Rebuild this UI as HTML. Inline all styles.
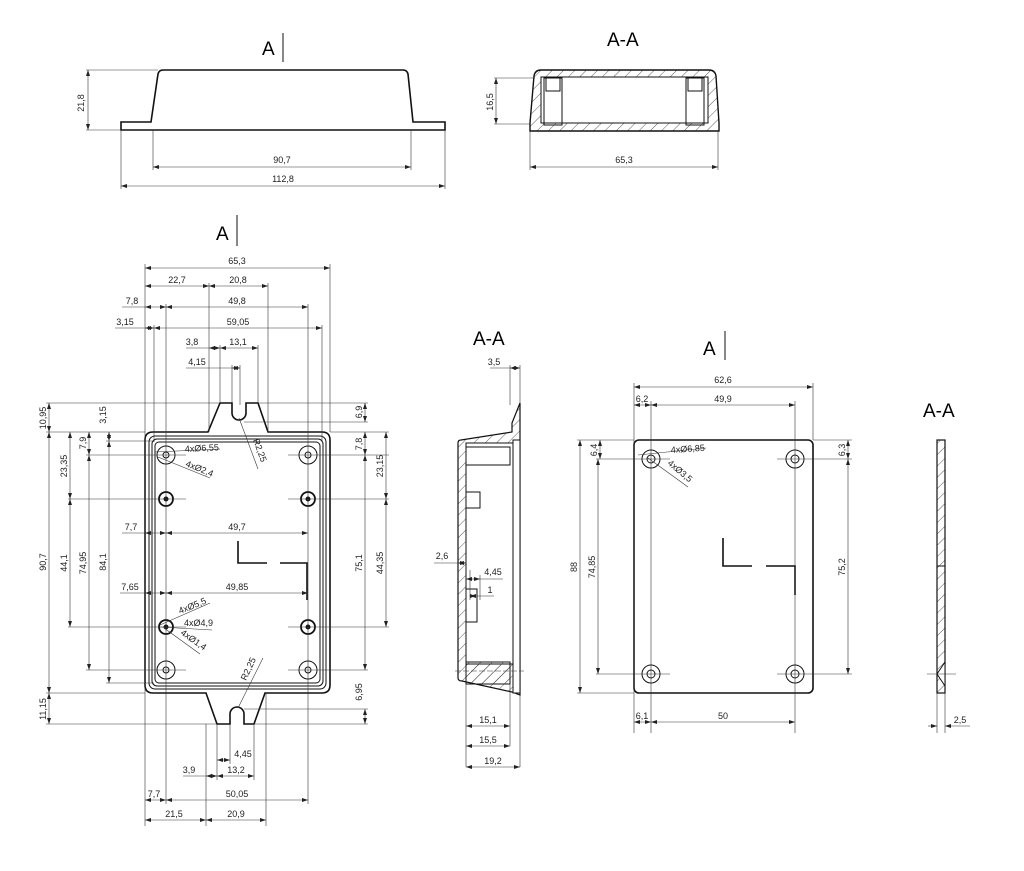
<!DOCTYPE html>
<html><head><meta charset="utf-8"><style>
html,body{margin:0;padding:0;background:#fff;}
svg{display:block;font-family:"Liberation Sans",sans-serif;}
.t{font-size:9px;fill:#222;}
.T{font-size:19px;fill:#000;}
.o{stroke:#111;stroke-width:1.6;fill:none;}
.m{stroke:#111;stroke-width:1;fill:none;}
.d{stroke:#333;stroke-width:0.6;fill:none;}
</style></head><body>
<svg width="1024" height="871" viewBox="0 0 1024 871" xmlns="http://www.w3.org/2000/svg">
<defs>
<marker id="a" viewBox="0 0 6 4" refX="6" refY="2" markerWidth="6" markerHeight="4" orient="auto-start-reverse" markerUnits="userSpaceOnUse"><path d="M0,0L6,2L0,4z" fill="#222"/></marker>
<pattern id="hat" width="8" height="8" patternUnits="userSpaceOnUse" patternTransform="rotate(45)"><line x1="0" y1="0" x2="0" y2="8" stroke="#333" stroke-width="0.8"/></pattern>
</defs>
<rect width="1024" height="871" fill="#fff"/>

<!-- TOP SIDE VIEW -->
<text class="T" x="262" y="55">A</text><line class="m" x1="283" y1="33" x2="283" y2="62" stroke-width="1.5"/>
<path class="o" d="M121,130 L121,122 L151,122 L158,74 Q159,70 163,70 L403,70 Q407,70 408,74 L413,122 L445,122 L445,130 Z"/>
<line class="d" x1="86" y1="70" x2="158" y2="70"/><line class="d" x1="86" y1="130" x2="121" y2="130"/>
<line class="d" x1="88" y1="70" x2="88" y2="130" marker-start="url(#a)" marker-end="url(#a)"/>
<text class="t" transform="translate(84,103) rotate(-90)" text-anchor="middle">21,8</text>
<line class="d" x1="153" y1="130" x2="153" y2="170"/><line class="d" x1="411" y1="130" x2="411" y2="170"/>
<line class="d" x1="153" y1="167" x2="411" y2="167" marker-start="url(#a)" marker-end="url(#a)"/>
<text class="t" x="282" y="163" text-anchor="middle">90,7</text>
<line class="d" x1="121" y1="130" x2="121" y2="189"/><line class="d" x1="445" y1="130" x2="445" y2="189"/>
<line class="d" x1="121" y1="186" x2="445" y2="186" marker-start="url(#a)" marker-end="url(#a)"/>
<text class="t" x="283" y="182" text-anchor="middle">112,8</text>

<!-- TOP A-A -->
<text class="T" x="607" y="46">A-A</text>
<path d="M530,131 L530,123 L534,76 Q535,70 541,70 L709,70 Q715,70 716,76 L719,123 L719,131 Z" fill="url(#hat)" stroke="#111" stroke-width="1.4"/>
<rect x="541" y="77" width="167" height="46" fill="#fff" stroke="#111" stroke-width="1"/>
<rect x="544" y="78" width="18" height="47" fill="#fff" class="m"/><rect x="546" y="78" width="14" height="13" fill="none" class="m"/>
<rect x="686" y="78" width="18" height="47" fill="#fff" class="m"/><rect x="688" y="78" width="14" height="13" fill="none" class="m"/>
<line class="d" x1="494" y1="78" x2="535" y2="78"/><line class="d" x1="494" y1="124" x2="530" y2="124"/>
<line class="d" x1="496" y1="78" x2="496" y2="124" marker-start="url(#a)" marker-end="url(#a)"/>
<text class="t" transform="translate(493,102) rotate(-90)" text-anchor="middle">16,5</text>
<line class="d" x1="530" y1="131" x2="530" y2="170"/><line class="d" x1="718" y1="131" x2="718" y2="170"/>
<line class="d" x1="530" y1="167" x2="718" y2="167" marker-start="url(#a)" marker-end="url(#a)"/>
<text class="t" x="624" y="163" text-anchor="middle">65,3</text>

<!-- MAIN VIEW -->
<text class="T" x="216" y="240">A</text><line class="m" x1="237" y1="215" x2="237" y2="246" stroke-width="1.5"/>
<path class="o" d="M153,432 L208,432 L220,403 L232,403 L232,413 A7,7 0 0 0 246,413 L246,403 L258,403 L268,432 L322,432 Q330,432 330,440 L330,685 Q330,693 322,693 L265,693 L254,724 L244,724 L244,714 A7,7 0 0 0 230,714 L230,724 L217,724 L206,693 L153,693 Q145,693 145,685 L145,440 Q145,432 153,432 Z"/>
<rect x="149" y="436" width="177" height="253" rx="6" class="m"/>
<rect x="152" y="439" width="171" height="247" rx="5" class="m"/>
<rect x="155" y="442" width="165" height="241" rx="4" class="m"/>
<g class="m">
<circle cx="166" cy="455" r="9"/><circle cx="166" cy="455" r="3"/>
<circle cx="308" cy="455" r="9"/><circle cx="308" cy="455" r="3"/>
<circle cx="166" cy="499" r="7" stroke-width="1.8"/><circle cx="166" cy="499" r="2" fill="#111"/>
<circle cx="308" cy="499" r="7" stroke-width="1.8"/><circle cx="308" cy="499" r="2" fill="#111"/>
<circle cx="166" cy="627" r="7" stroke-width="1.8"/><circle cx="166" cy="627" r="2" fill="#111"/>
<circle cx="308" cy="627" r="7" stroke-width="1.8"/><circle cx="308" cy="627" r="2" fill="#111"/>
<circle cx="166" cy="670" r="9"/><circle cx="166" cy="670" r="3"/>
<circle cx="308" cy="670" r="9"/><circle cx="308" cy="670" r="3"/>
</g>
<path d="M238,541 L238,563 L267,563 M280,563 L307,563 L307,600" stroke="#111" stroke-width="1.6" fill="none"/>
<g class="d">
<line x1="145" y1="264" x2="145" y2="826"/><line x1="330" y1="264" x2="330" y2="432"/>
<line x1="209" y1="283" x2="209" y2="432"/><line x1="268" y1="283" x2="268" y2="432"/>
<line x1="166" y1="304" x2="166" y2="804"/><line x1="308" y1="304" x2="308" y2="804"/>
<line x1="154" y1="325" x2="154" y2="442"/><line x1="322" y1="325" x2="322" y2="442"/>
<line x1="220" y1="345" x2="220" y2="403"/><line x1="258" y1="345" x2="258" y2="403"/>
<line x1="232" y1="365" x2="232" y2="403"/><line x1="240" y1="365" x2="240" y2="405"/>
<line x1="206" y1="724" x2="206" y2="826"/><line x1="266" y1="693" x2="266" y2="826"/>
<line x1="217" y1="724" x2="217" y2="780"/><line x1="254" y1="724" x2="254" y2="780"/><line x1="230" y1="724" x2="230" y2="764"/>
<line x1="46" y1="403" x2="220" y2="403"/><line x1="46" y1="432" x2="145" y2="432"/><line x1="46" y1="693" x2="145" y2="693"/><line x1="46" y1="724" x2="217" y2="724"/>
<line x1="68" y1="499" x2="186" y2="499"/><line x1="68" y1="627" x2="186" y2="627"/>
<line x1="86" y1="455" x2="186" y2="455"/><line x1="86" y1="670" x2="186" y2="670"/>
<line x1="106" y1="441" x2="154" y2="441"/><line x1="106" y1="683" x2="154" y2="683"/>
<line x1="288" y1="455" x2="389" y2="455"/><line x1="288" y1="670" x2="368" y2="670"/>
<line x1="288" y1="499" x2="389" y2="499"/><line x1="288" y1="627" x2="389" y2="627"/>
<line x1="330" y1="432" x2="389" y2="432"/><line x1="244" y1="422" x2="368" y2="422"/><line x1="258" y1="403" x2="368" y2="403"/>
<line x1="244" y1="709" x2="368" y2="709"/><line x1="254" y1="724" x2="368" y2="724"/>
</g>
<g class="d" marker-start="url(#a)" marker-end="url(#a)">
<line x1="145" y1="268" x2="330" y2="268"/>
<line x1="145" y1="286" x2="209" y2="286"/><line x1="209" y1="286" x2="268" y2="286"/>
<line x1="145" y1="307" x2="166" y2="307"/><line x1="166" y1="307" x2="308" y2="307"/>
<line x1="145" y1="328" x2="154" y2="328"/><line x1="154" y1="328" x2="322" y2="328"/>
<line x1="209" y1="348" x2="220" y2="348"/><line x1="220" y1="348" x2="258" y2="348"/>
<line x1="232" y1="368" x2="240" y2="368"/>
<line x1="145" y1="533" x2="166" y2="533"/><line x1="166" y1="533" x2="308" y2="533"/>
<line x1="145" y1="593" x2="166" y2="593"/><line x1="166" y1="593" x2="308" y2="593"/>
<line x1="217" y1="760" x2="230" y2="760"/>
<line x1="206" y1="776" x2="217" y2="776"/><line x1="217" y1="776" x2="254" y2="776"/>
<line x1="145" y1="800" x2="166" y2="800"/><line x1="166" y1="800" x2="308" y2="800"/>
<line x1="145" y1="820" x2="206" y2="820"/><line x1="206" y1="820" x2="266" y2="820"/>
<line x1="49" y1="403" x2="49" y2="432"/><line x1="49" y1="432" x2="49" y2="693"/><line x1="49" y1="693" x2="49" y2="724"/>
<line x1="70" y1="432" x2="70" y2="499"/><line x1="70" y1="499" x2="70" y2="627"/>
<line x1="89" y1="432" x2="89" y2="455"/><line x1="89" y1="455" x2="89" y2="670"/>
<line x1="109" y1="432" x2="109" y2="441"/><line x1="109" y1="441" x2="109" y2="683"/>
<line x1="365" y1="403" x2="365" y2="422"/><line x1="365" y1="432" x2="365" y2="455"/><line x1="365" y1="455" x2="365" y2="670"/><line x1="365" y1="709" x2="365" y2="724"/>
<line x1="386" y1="432" x2="386" y2="499"/><line x1="386" y1="499" x2="386" y2="627"/>
</g>
<g class="d"><line x1="115" y1="328" x2="145" y2="328"/><line x1="186" y1="348" x2="209" y2="348"/><line x1="186" y1="368" x2="232" y2="368"/><line x1="122" y1="307" x2="145" y2="307"/><line x1="122" y1="533" x2="145" y2="533"/><line x1="120" y1="593" x2="145" y2="593"/><line x1="183" y1="776" x2="206" y2="776"/></g>
<g class="t" text-anchor="middle">
<text x="237" y="264">65,3</text><text x="177" y="283">22,7</text><text x="238" y="283">20,8</text>
<text x="132" y="304">7,8</text><text x="237" y="304">49,8</text>
<text x="125" y="325">3,15</text><text x="238" y="325">59,05</text>
<text x="192" y="345">3,8</text><text x="238" y="345">13,1</text><text x="197" y="365">4,15</text>
<text x="131" y="530">7,7</text><text x="237" y="530">49,7</text>
<text x="130" y="590">7,65</text><text x="237" y="590">49,85</text>
<text x="243" y="757">4,45</text><text x="189" y="773">3,9</text><text x="236" y="773">13,2</text>
<text x="154" y="797">7,7</text><text x="237" y="797">50,05</text>
<text x="174" y="817">21,5</text><text x="236" y="817">20,9</text>
<text transform="translate(46,418) rotate(-90)">10,95</text><text transform="translate(46,562) rotate(-90)">90,7</text><text transform="translate(46,709) rotate(-90)">11,15</text>
<text transform="translate(67,466) rotate(-90)">23,35</text><text transform="translate(67,563) rotate(-90)">44,1</text>
<text transform="translate(86,443) rotate(-90)">7,9</text><text transform="translate(86,563) rotate(-90)">74,95</text>
<text transform="translate(106,415) rotate(-90)">3,15</text><text transform="translate(106,562) rotate(-90)">84,1</text>
<text transform="translate(362,412) rotate(-90)">6,9</text><text transform="translate(362,444) rotate(-90)">7,8</text><text transform="translate(362,563) rotate(-90)">75,1</text><text transform="translate(362,692) rotate(-90)">6,95</text>
<text transform="translate(383,466) rotate(-90)">23,15</text><text transform="translate(383,563) rotate(-90)">44,35</text>
</g>
<g class="d">
<line x1="155" y1="452" x2="220" y2="449"/><line x1="158" y1="457" x2="210" y2="478"/>
<line x1="239" y1="418" x2="258" y2="469"/>
<line x1="160" y1="625" x2="210" y2="603"/><line x1="160" y1="627" x2="212" y2="630"/><line x1="164" y1="628" x2="200" y2="654"/>
<line x1="238" y1="708" x2="263" y2="658"/>
</g>
<g class="t">
<text x="185" y="452" transform="rotate(-3,185,452)">4xØ6,55</text>
<text x="185" y="466" transform="rotate(22,185,466)">4xØ2,4</text>
<text x="253" y="440" transform="rotate(70,253,440)">R2,25</text>
<text x="180" y="614" transform="rotate(-22,180,614)">4xØ5,5</text>
<text x="184" y="626">4xØ4,9</text>
<text x="180" y="634" transform="rotate(35,180,634)">4xØ1,4</text>
<text x="246" y="681" transform="rotate(-65,246,681)">R2,25</text>
</g>

<!-- SIDE SECTION A-A -->
<text class="T" x="473" y="345">A-A</text>
<path d="M458,443 Q458,440 461,440 L512,432 L512,423 L520,403 L520,695 L512,692 L462,681 Q458,681 458,678 Z" fill="url(#hat)" stroke="#111" stroke-width="1.2"/>
<rect x="466" y="443" width="48" height="221" fill="#fff" stroke="#111" stroke-width="1"/>
<rect x="513" y="440" width="7" height="253" fill="#fff" stroke="#111" stroke-width="1"/>
<rect x="466" y="447" width="44" height="18" fill="#fff" class="m"/>
<rect x="466" y="492" width="14" height="16" fill="#fff" class="m"/>
<rect x="466" y="662" width="44" height="22" fill="url(#hat)" stroke="#111" stroke-width="1"/>
<line class="d" x1="455" y1="671" x2="524" y2="671" stroke-dasharray="6,2"/>
<rect x="466" y="589" width="11" height="33" fill="none" class="m"/>
<g class="d">
<line x1="510" y1="365" x2="510" y2="405"/><line x1="520" y1="365" x2="520" y2="403"/>
<line x1="466" y1="684" x2="466" y2="767"/><line x1="510" y1="684" x2="510" y2="746"/><line x1="520" y1="695" x2="520" y2="767"/>
<line x1="470" y1="570" x2="470" y2="600"/><line x1="480" y1="575" x2="480" y2="600"/>
</g>
<g class="d" marker-start="url(#a)" marker-end="url(#a)">
<line x1="510" y1="368" x2="520" y2="368"/>
<line x1="458" y1="563" x2="466" y2="563"/>
<line x1="466" y1="579" x2="480" y2="579"/>
<line x1="470" y1="596" x2="476" y2="596"/>
<line x1="466" y1="726" x2="510" y2="726"/><line x1="466" y1="746" x2="510" y2="746"/><line x1="466" y1="767" x2="520" y2="767"/>
</g>
<g class="d"><line x1="490" y1="368" x2="510" y2="368"/><line x1="434" y1="563" x2="458" y2="563"/><line x1="480" y1="579" x2="503" y2="579"/><line x1="476" y1="596" x2="494" y2="596"/></g>
<g class="t" text-anchor="middle">
<text x="494" y="365">3,5</text><text x="442" y="559">2,6</text><text x="493" y="575">4,45</text><text x="490" y="593">1</text>
<text x="488" y="723">15,1</text><text x="488" y="743">15,5</text><text x="493" y="764">19,2</text>
</g>

<!-- RIGHT LID VIEW -->
<text class="T" x="703" y="355">A</text><line class="m" x1="725" y1="331" x2="725" y2="360" stroke-width="1.5"/>
<rect x="634" y="440" width="179" height="253" rx="5" class="o"/>
<g class="m">
<circle cx="651" cy="459" r="9"/><circle cx="651" cy="459" r="4"/>
<circle cx="795" cy="459" r="9"/><circle cx="795" cy="459" r="4"/>
<circle cx="651" cy="674" r="9"/><circle cx="651" cy="674" r="4"/>
<circle cx="795" cy="674" r="9"/><circle cx="795" cy="674" r="4"/>
</g>
<path d="M723,538 L723,566 L752,566 M766,566 L795,566 L795,595" stroke="#111" stroke-width="1.6" fill="none"/>
<g class="d">
<line x1="634" y1="383" x2="634" y2="733"/><line x1="813" y1="383" x2="813" y2="440"/>
<line x1="651" y1="401" x2="651" y2="733"/><line x1="795" y1="401" x2="795" y2="733"/>
<line x1="577" y1="440" x2="634" y2="440"/><line x1="577" y1="693" x2="634" y2="693"/>
<line x1="596" y1="459" x2="670" y2="459"/><line x1="596" y1="674" x2="670" y2="674"/>
<line x1="813" y1="440" x2="852" y2="440"/><line x1="777" y1="459" x2="852" y2="459"/><line x1="777" y1="674" x2="852" y2="674"/>
<line x1="638" y1="455" x2="706" y2="448"/><line x1="648" y1="458" x2="688" y2="487"/>
</g>
<g class="d" marker-start="url(#a)" marker-end="url(#a)">
<line x1="634" y1="387" x2="813" y2="387"/>
<line x1="634" y1="405" x2="651" y2="405"/><line x1="651" y1="405" x2="795" y2="405"/>
<line x1="634" y1="722" x2="651" y2="722"/><line x1="651" y1="722" x2="795" y2="722"/>
<line x1="580" y1="440" x2="580" y2="693"/>
<line x1="598" y1="459" x2="598" y2="674"/>
<line x1="600" y1="440" x2="600" y2="459"/>
<line x1="848" y1="440" x2="848" y2="459"/><line x1="848" y1="459" x2="848" y2="674"/>
</g>
<g class="t" text-anchor="middle">
<text x="723" y="383">62,6</text><text x="642" y="402">6,2</text><text x="723" y="402">49,9</text>
<text x="642" y="719">6,1</text><text x="723" y="719">50</text>
<text transform="translate(577,567) rotate(-90)">88</text><text transform="translate(595,567) rotate(-90)">74,85</text>
<text transform="translate(597,450) rotate(-90)">6,4</text>
<text transform="translate(845,450) rotate(-90)">6,3</text><text transform="translate(845,567) rotate(-90)">75,2</text>
<text x="671" y="453" text-anchor="start" transform="rotate(-4,671,453)">4xØ6,85</text>
<text x="667" y="464" text-anchor="start" transform="rotate(40,667,464)">4xØ3,5</text>
</g>

<!-- THIN A-A -->
<text class="T" x="923" y="417">A-A</text>
<rect x="937" y="440" width="8" height="253" fill="url(#hat)" stroke="#111" stroke-width="1.2"/>
<line class="m" x1="937" y1="566" x2="945" y2="566"/>
<path d="M937,674 L945,662 L945,686 Z" fill="#fff" stroke="#111" stroke-width="1"/>
<line class="d" x1="927" y1="674" x2="956" y2="674"/>
<g class="d"><line x1="937" y1="693" x2="937" y2="733"/><line x1="945" y1="693" x2="945" y2="733"/><line x1="928" y1="726" x2="937" y2="726" marker-end="url(#a)"/><line x1="970" y1="726" x2="945" y2="726" marker-end="url(#a)"/></g>
<text class="t" x="960" y="723" text-anchor="middle">2,5</text>
</svg>
</body></html>
